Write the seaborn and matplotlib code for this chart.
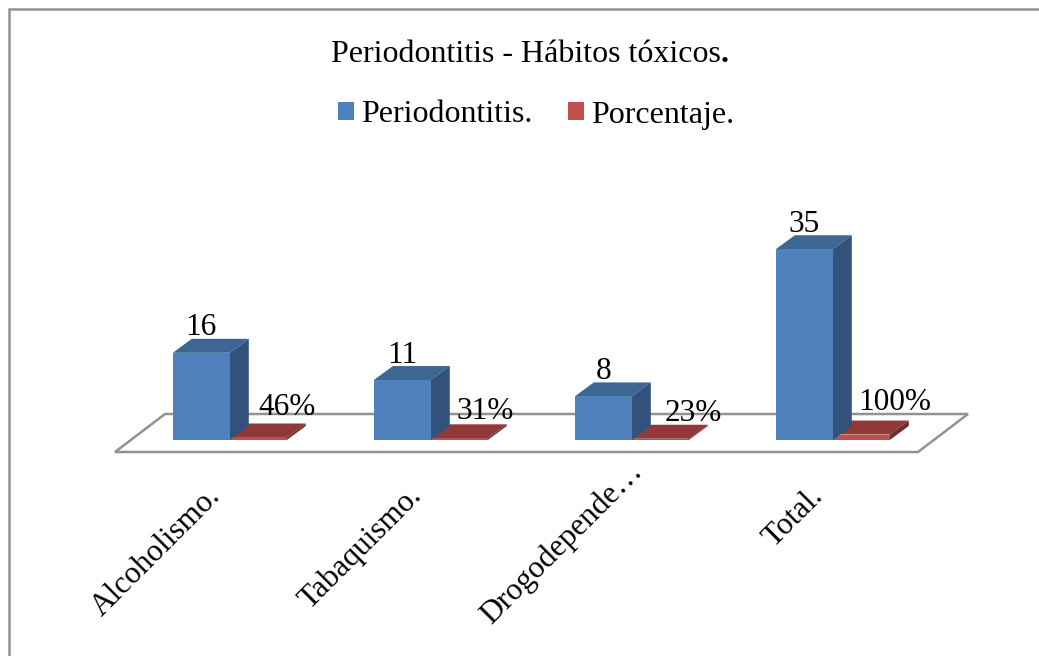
import matplotlib
matplotlib.use("Agg")
import matplotlib.pyplot as plt
from matplotlib.patches import Polygon, Rectangle
from matplotlib.transforms import ScaledTranslation
import pandas as pd
import seaborn as sns

categories = ["Alcoholismo.", "Tabaquismo.", "Drogodepende…", "Total."]
periodontitis = [16, 11, 8, 35]
porcentaje = [0.46, 0.31, 0.23, 1.00]
series_names = ["Periodontitis.", "Porcentaje."]
title_text = "Periodontitis - Hábitos tóxicos"

W, H = 1039, 656
sns.set_style("white")
plt.rcParams["font.family"] = ["Liberation Serif", "DejaVu Serif"]
plt.rcParams["text.color"] = "black"

df = pd.DataFrame({
    "cat": categories * 2,
    "serie": [series_names[0]] * 4 + [series_names[1]] * 4,
    "valor": periodontitis + porcentaje,
})

fig = plt.figure(figsize=(W / 100, H / 100), dpi=100, facecolor="white")
# pixel layout of the plot box
px_left, px_width, px_base, px_per_unit, px_height = 129.3, 804, 440, 5.45, 200
ax = fig.add_axes([px_left / W, (H - px_base) / H, px_width / W, px_height / H])
FRONT = ["#4F81BD", "#C0504D"]
TOP = ["#3E6692", "#8F3A38"]
SIDE = ["#32527B", "#6F2E2C"]

sns.barplot(data=df, x="cat", y="valor", hue="serie", hue_order=series_names,
            order=categories, palette=FRONT, width=0.567, gap=0, ax=ax,
            saturation=1, errorbar=None, zorder=3, linewidth=0, edgecolor="none")
ax.set_xlim(-0.5, 3.5)
ax.set_ylim(0, px_height / px_per_unit)
ax.set_xlabel("")
ax.set_ylabel("")
ax.set_yticks([])
sns.despine(ax=ax, left=True, bottom=True, top=True, right=True)
ax.patch.set_alpha(0)

ux = 1 / (px_width / 4)      # data units per pixel, x
uy = 1 / px_per_unit         # data units per pixel, y
dx, dy = 19 * ux, 14 * uy    # depth of the 3D bars

# floor of the 3D plot
x0, x1 = -0.5, 3.5
floor = Polygon([(x0 - 14.3 * ux, -12 * uy), (x1 - 15.3 * ux, -12 * uy),
                 (x1 + 34.7 * ux, 26 * uy), (x0 + 35.7 * ux, 26 * uy)],
                closed=True, fill=False, edgecolor="#929292", lw=1.8,
                zorder=1, clip_on=False, joinstyle="miter")
ax.add_patch(floor)

# side and top faces, built from the bars seaborn drew
bars = [p for p in ax.patches if isinstance(p, Rectangle) and p.get_height() > 0]
for idx, bar in enumerate(bars):
    s = 0 if idx < 4 else 1
    xa, w, h = bar.get_x(), bar.get_width(), bar.get_height()
    z = 3 + (0.5 if s == 0 else 0.1)
    ax.add_patch(Polygon([(xa, h), (xa + w, h), (xa + w + dx, h + dy), (xa + dx, h + dy)],
                         closed=True, fc=TOP[s], ec="none", zorder=z, clip_on=False))
    ax.add_patch(Polygon([(xa + w, 0), (xa + w + dx, dy), (xa + w + dx, h + dy), (xa + w, h)],
                         closed=True, fc=SIDE[s], ec="none", zorder=z, clip_on=False))
    bar.set_zorder(z + 0.1)
    bar.set_clip_on(False)

# data labels: blue bars then red bars (offsets from the top of each bar, pixels)
blue_off = [(0, 25), (0, 25), (0, 25), (0, 25)]
red_off = [(28.5, 30), (25.5, 27), (33, 25), (33, 32.5)]
for i, v in enumerate(periodontitis):
    b = bars[i]
    ax.annotate(f"{v}", (b.get_x() + b.get_width() / 2, v), xytext=blue_off[i],
                textcoords="offset pixels", ha="center", va="center",
                fontsize=22.5, color="black", zorder=8, annotation_clip=False)
for i, v in enumerate(porcentaje):
    b = bars[4 + i]
    ax.annotate(f"{v:.0%}", (b.get_x() + b.get_width() / 2, v), xytext=red_off[i],
                textcoords="offset pixels", ha="center", va="center",
                fontsize=22.5, color="black", zorder=8, annotation_clip=False)

# category labels
ax.set_xticks(range(len(categories)))
ax.set_xticklabels(categories, rotation=45, ha="right", rotation_mode="anchor",
                   fontsize=22.5, color="black")
ax.tick_params(axis="x", length=0, pad=24)
label_shift = [(-24, -8), (-24, -8), (-4, 17), (-24, -8)]
for lab, (sx, sy) in zip(ax.get_xticklabels(), label_shift):
    lab.set_transform(lab.get_transform() + ScaledTranslation(sx / 100, sy / 100, fig.dpi_scale_trans))

# legend
sns.move_legend(ax, "center", bbox_to_anchor=(536 / W, 1 - 115 / H),
                bbox_transform=fig.transFigure, ncol=2, frameon=False, title=None,
                fontsize=23, handlelength=0.5, handleheight=0.5,
                handletextpad=0.22, columnspacing=1.13, borderpad=0, borderaxespad=0,
                labelcolor="black")

# title, with its bold closing full stop
t = fig.text(526 / W, 1 - 55 / H, title_text, ha="center", va="center",
             fontsize=23, color="black")
ax.annotate(".", xy=(1, 0), xycoords=t, xytext=(0, 0), textcoords="offset pixels",
            ha="left", va="bottom", fontsize=23, fontweight="bold", color="black",
            annotation_clip=False)

# chart frame
fig.add_artist(Rectangle((8.5 / W, -0.02), 1.1, 1 - 9 / H + 0.02,
                         transform=fig.transFigure, fill=False,
                         edgecolor="#929292", lw=1.8))

fig.savefig("out.png", dpi=100, facecolor="white")
